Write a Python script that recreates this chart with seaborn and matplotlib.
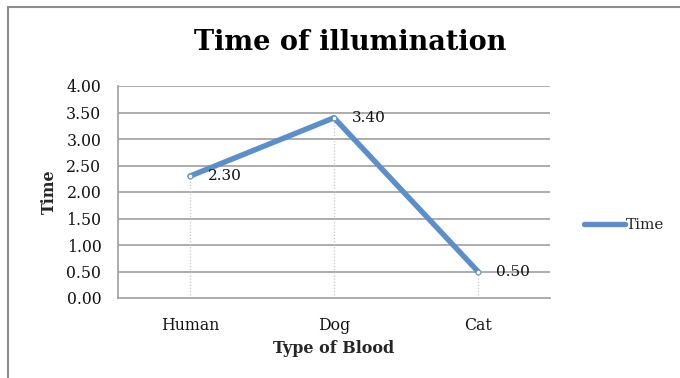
import matplotlib
matplotlib.use("Agg")
import matplotlib.pyplot as plt
from matplotlib.lines import Line2D
import seaborn as sns
import pandas as pd

blood_types = ["Human", "Dog", "Cat"]
times = [2.30, 3.40, 0.50]
y_ticks = [0.0, 0.5, 1.0, 1.5, 2.0, 2.5, 3.0, 3.5, 4.0]

df = pd.DataFrame({"Type of Blood": blood_types, "Time": times})

sns.set_theme(style="white")
plt.rcParams["font.family"] = ["DejaVu Serif"]

W, H = 680, 378
fig = plt.figure(figsize=(W / 100, H / 100), dpi=100)
ax = fig.add_axes([118 / W, 80 / H, 432 / W, 212 / H])

line_color = "#5A8FCB"
grid_color = "#A6A6A6"

sns.lineplot(data=df, x="Type of Blood", y="Time", ax=ax, sort=False,
             color=line_color, linewidth=3.9, marker="o", markersize=3.5,
             markerfacecolor="white", markeredgecolor=line_color,
             markeredgewidth=0.8, label="Time", zorder=4)

ax.set_xlim(-0.5, len(blood_types) - 0.5)
ax.set_ylim(0, 4)
ax.set_yticks(y_ticks)
ax.set_yticklabels([f"{v:.2f}" for v in y_ticks])
ax.set_xticks(range(len(blood_types)))
ax.set_xticklabels(blood_types)

for v in y_ticks[1:]:
    ax.axhline(v, color=grid_color, linewidth=1.3, zorder=1)

# dotted drop lines from each point to the axis
for i, v in enumerate(times):
    ax.plot([i, i], [0, v], color="#C8C8C8", linewidth=0.9,
            linestyle=(0, (1, 1.5)), zorder=2)
    ax.annotate(f"{v:.2f}", (i, v), xytext=(13, 0), textcoords="offset points",
                ha="left", va="center", fontsize=11, color="#111111", zorder=5)

for s in ["top", "right"]:
    ax.spines[s].set_visible(False)
for s in ["left", "bottom"]:
    ax.spines[s].set_color(grid_color)
    ax.spines[s].set_linewidth(1.3)

ax.tick_params(axis="both", length=0, labelsize=11.3, colors="#111111")
ax.tick_params(axis="y", pad=12)
ax.tick_params(axis="x", pad=14)

ax.set_xlabel("Type of Blood", fontsize=11.5, fontweight="bold", labelpad=4)
ax.set_ylabel("Time", fontsize=11.5, fontweight="bold", labelpad=6)

leg = ax.legend(handles=[Line2D([0], [0], color=line_color, linewidth=3.9)],
                labels=["Time"], loc="center left",
                bbox_to_anchor=(578 / W, 1 - 225 / H),
                bbox_transform=fig.transFigure, frameon=False,
                fontsize=11, handlelength=2.7, handletextpad=0.05,
                borderaxespad=0)

fig.text(350 / W, 1 - 43 / H, "Time of illumination", ha="center", va="center",
         fontsize=19.5, fontweight="bold", color="black")

# chart border
fig.add_artist(Line2D([8 / W, 8 / W], [0, 1 - 7 / H], color="#8C8C8C",
                      linewidth=1.5, transform=fig.transFigure))
fig.add_artist(Line2D([8 / W, 1], [1 - 7 / H, 1 - 7 / H], color="#8C8C8C",
                      linewidth=1.5, transform=fig.transFigure))

fig.savefig("out.png", dpi=100)
